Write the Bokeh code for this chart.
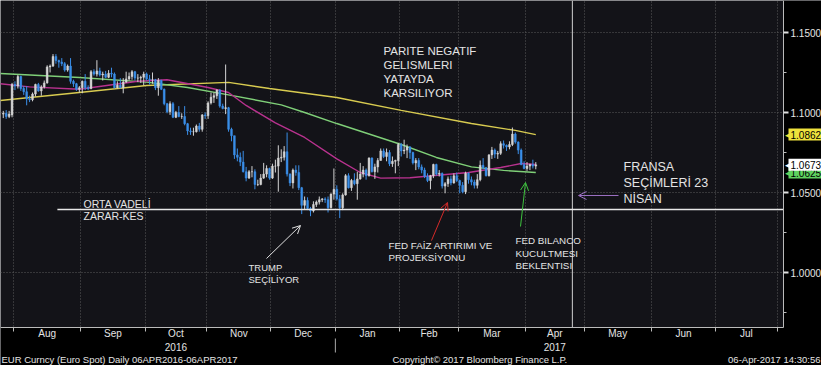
import numpy as np
import pandas as pd
from bokeh.plotting import figure
from bokeh.models import (Range1d, FixedTicker, Label, Arrow, OpenHead, Span, Grid, LinearAxis,
                          BoxAnnotation, ColumnDataSource, PrintfTickFormatter,
                          CustomJSTickFormatter)
from bokeh.embed import file_html
from bokeh.resources import INLINE

# ---------------- data ----------------
ORIGIN = "2016-08-01"
dates = pd.bdate_range("2016-07-26", "2017-04-06")

opens = [
    1.0990, 1.0995, 1.0975, 1.0985,
    1.1175, 1.1165, 1.1225, 1.1150, 1.1130, 1.1085, 1.1080, 1.1115, 1.1175, 1.1135,
    1.1160, 1.1185, 1.1285, 1.1290, 1.1350, 1.1325, 1.1315, 1.1305, 1.1265, 1.1290,
    1.1195, 1.1180, 1.1145,
    1.1155, 1.1195, 1.1155, 1.1150, 1.1255, 1.1240, 1.1260, 1.1235, 1.1240, 1.1220,
    1.1245, 1.1240, 1.1155, 1.1170, 1.1155, 1.1190, 1.1210, 1.1225, 1.1255, 1.1215,
    1.1215, 1.1220,
    1.1240, 1.1210, 1.1205, 1.1205, 1.1155, 1.1200, 1.1145, 1.1055, 1.1005, 1.1055,
    1.0970, 1.1000, 1.0975, 1.0975, 1.0930, 1.0885, 1.0880, 1.0880, 1.0915, 1.0895,
    1.0985,
    1.0980, 1.1060, 1.1095, 1.1105, 1.1140, 1.1040, 1.1025, 1.1030, 1.0895, 1.0855,
    1.0735, 1.0720, 1.0690, 1.0630, 1.0590, 1.0630, 1.0630, 1.0550, 1.0550, 1.0590,
    1.0615, 1.0650,
    1.0590, 1.0665, 1.0665, 1.0715, 1.0720, 1.0755, 1.0615, 1.0560, 1.0640, 1.0625,
    1.0530, 1.0420, 1.0450, 1.0400, 1.0385, 1.0425, 1.0440, 1.0455, 1.0460, 1.0455,
    1.0405, 1.0490,
    1.0520, 1.0460, 1.0405, 1.0485, 1.0605, 1.0530, 1.0575, 1.0555, 1.0585, 1.0615,
    1.0640, 1.0605, 1.0715, 1.0630, 1.0660, 1.0700, 1.0760, 1.0725, 1.0750, 1.0680,
    1.0695, 1.0700,
    1.0800, 1.0760, 1.0765, 1.0785, 1.0750, 1.0685, 1.0700, 1.0660, 1.0640, 1.0600,
    1.0575, 1.0605, 1.0675, 1.0615, 1.0620, 1.0540, 1.0555, 1.0585, 1.0560, 1.0605,
    1.0575, 1.0545, 1.0505, 1.0620, 1.0580, 1.0565, 1.0545, 1.0580, 1.0670, 1.0655,
    1.0605, 1.0735, 1.0765, 1.0740, 1.0745, 1.0805, 1.0795, 1.0785, 1.0800, 1.0865,
    1.0815, 1.0765, 1.0675,
    1.0650, 1.0665, 1.0675, 1.0665,
]
highs = [
    1.1010, 1.1015, 1.1010, 1.1185,
    1.1195, 1.1235, 1.1230, 1.1165, 1.1165, 1.1105, 1.1125, 1.1180, 1.1185, 1.1170,
    1.1200, 1.1295, 1.1300, 1.1365, 1.1365, 1.1330, 1.1340, 1.1315, 1.1300, 1.1340,
    1.1205, 1.1185, 1.1165,
    1.1200, 1.1240, 1.1170, 1.1265, 1.1270, 1.1327, 1.1280, 1.1255, 1.1260, 1.1265,
    1.1280, 1.1250, 1.1195, 1.1215, 1.1215, 1.1255, 1.1250, 1.1265, 1.1260, 1.1240,
    1.1230, 1.1255,
    1.1250, 1.1235, 1.1250, 1.1210, 1.1215, 1.1205, 1.1150, 1.1060, 1.1070, 1.1065,
    1.1010, 1.1040, 1.0995, 1.1040, 1.0935, 1.0905, 1.0905, 1.0925, 1.0935, 1.0990,
    1.1000,
    1.1070, 1.1125, 1.1125, 1.1145, 1.1145, 1.1055, 1.1300, 1.1035, 1.0905, 1.0855,
    1.0775, 1.0750, 1.0760, 1.0660, 1.0640, 1.0665, 1.0645, 1.0580, 1.0615, 1.0685,
    1.0670, 1.0655,
    1.0680, 1.0705, 1.0795, 1.0770, 1.0790, 1.0875, 1.0620, 1.0650, 1.0670, 1.0670,
    1.0535, 1.0475, 1.0470, 1.0410, 1.0445, 1.0450, 1.0475, 1.0465, 1.0470, 1.0475,
    1.0495, 1.0650,
    1.0545, 1.0485, 1.0495, 1.0615, 1.0620, 1.0585, 1.0620, 1.0630, 1.0685, 1.0665,
    1.0650, 1.0720, 1.0720, 1.0680, 1.0715, 1.0775, 1.0775, 1.0775, 1.0765, 1.0725,
    1.0705, 1.0810,
    1.0810, 1.0830, 1.0800, 1.0790, 1.0755, 1.0715, 1.0715, 1.0675, 1.0655, 1.0620,
    1.0610, 1.0680, 1.0680, 1.0640, 1.0625, 1.0565, 1.0600, 1.0605, 1.0620, 1.0625,
    1.0580, 1.0565, 1.0630, 1.0625, 1.0600, 1.0580, 1.0615, 1.0700, 1.0715, 1.0660,
    1.0740, 1.0785, 1.0775, 1.0760, 1.0820, 1.0825, 1.0800, 1.0820, 1.0906, 1.0875,
    1.0820, 1.0775, 1.0695,
    1.0690, 1.0680, 1.0705, 1.0690,
]
lows = [
    1.0965, 1.0960, 1.0965, 1.0970,
    1.1140, 1.1150, 1.1135, 1.1110, 1.1045, 1.1065, 1.1070, 1.1100, 1.1130, 1.1105,
    1.1150, 1.1180, 1.1250, 1.1285, 1.1305, 1.1280, 1.1290, 1.1255, 1.1255, 1.1180,
    1.1160, 1.1135, 1.1125,
    1.1120, 1.1140, 1.1140, 1.1145, 1.1230, 1.1225, 1.1225, 1.1200, 1.1215, 1.1215,
    1.1220, 1.1150, 1.1150, 1.1150, 1.1120, 1.1185, 1.1200, 1.1205, 1.1200, 1.1190,
    1.1185, 1.1170,
    1.1200, 1.1175, 1.1180, 1.1140, 1.1105, 1.1140, 1.1045, 1.0995, 1.0985, 1.0965,
    1.0965, 1.0970, 1.0960, 1.0920, 1.0860, 1.0860, 1.0855, 1.0875, 1.0880, 1.0880,
    1.0960,
    1.0960, 1.1050, 1.1060, 1.1085, 1.1030, 1.1020, 1.0990, 1.0880, 1.0820, 1.0710,
    1.0695, 1.0665, 1.0625, 1.0570, 1.0585, 1.0595, 1.0520, 1.0540, 1.0545, 1.0585,
    1.0595, 1.0580,
    1.0585, 1.0625, 1.0505, 1.0690, 1.0700, 1.0600, 1.0540, 1.0525, 1.0605, 1.0515,
    1.0365, 1.0395, 1.0390, 1.0352, 1.0375, 1.0410, 1.0425, 1.0440, 1.0435, 1.0375,
    1.0400, 1.0455,
    1.0450, 1.0340, 1.0390, 1.0480, 1.0525, 1.0510, 1.0545, 1.0455, 1.0580, 1.0595,
    1.0580, 1.0600, 1.0625, 1.0585, 1.0625, 1.0700, 1.0715, 1.0695, 1.0665, 1.0660,
    1.0620, 1.0665,
    1.0725, 1.0740, 1.0715, 1.0710, 1.0675, 1.0640, 1.0645, 1.0620, 1.0590, 1.0565,
    1.0520, 1.0590, 1.0605, 1.0600, 1.0525, 1.0495, 1.0535, 1.0545, 1.0555, 1.0565,
    1.0495, 1.0495, 1.0490, 1.0555, 1.0545, 1.0525, 1.0525, 1.0570, 1.0645, 1.0600,
    1.0600, 1.0710, 1.0715, 1.0710, 1.0735, 1.0775, 1.0760, 1.0770, 1.0790, 1.0805,
    1.0740, 1.0670, 1.0645,
    1.0635, 1.0640, 1.0650, 1.0645,
]
closes = [
    1.0995, 1.0975, 1.0990, 1.1175,
    1.1165, 1.1225, 1.1150, 1.1130, 1.1085, 1.1080, 1.1115, 1.1175, 1.1135, 1.1160,
    1.1185, 1.1285, 1.1290, 1.1350, 1.1325, 1.1315, 1.1305, 1.1265, 1.1290, 1.1195,
    1.1180, 1.1145, 1.1155,
    1.1195, 1.1155, 1.1150, 1.1255, 1.1240, 1.1260, 1.1235, 1.1240, 1.1220, 1.1245,
    1.1240, 1.1155, 1.1170, 1.1155, 1.1190, 1.1210, 1.1225, 1.1255, 1.1215, 1.1215,
    1.1220, 1.1240,
    1.1210, 1.1205, 1.1205, 1.1155, 1.1200, 1.1145, 1.1055, 1.1005, 1.1055, 1.0970,
    1.1000, 1.0975, 1.0975, 1.0930, 1.0885, 1.0880, 1.0880, 1.0915, 1.0895, 1.0985,
    1.0980,
    1.1060, 1.1095, 1.1105, 1.1140, 1.1040, 1.1025, 1.1030, 1.0895, 1.0855, 1.0735,
    1.0720, 1.0690, 1.0630, 1.0590, 1.0630, 1.0630, 1.0550, 1.0550, 1.0590, 1.0615,
    1.0650, 1.0590,
    1.0665, 1.0665, 1.0715, 1.0720, 1.0755, 1.0615, 1.0560, 1.0640, 1.0625, 1.0530,
    1.0420, 1.0450, 1.0400, 1.0385, 1.0425, 1.0440, 1.0455, 1.0460, 1.0455, 1.0405,
    1.0490, 1.0520,
    1.0460, 1.0405, 1.0485, 1.0605, 1.0530, 1.0575, 1.0555, 1.0585, 1.0615, 1.0640,
    1.0605, 1.0715, 1.0630, 1.0660, 1.0700, 1.0760, 1.0725, 1.0750, 1.0680, 1.0695,
    1.0700, 1.0800,
    1.0760, 1.0765, 1.0785, 1.0750, 1.0685, 1.0700, 1.0660, 1.0640, 1.0600, 1.0575,
    1.0605, 1.0675, 1.0615, 1.0620, 1.0540, 1.0555, 1.0585, 1.0560, 1.0605, 1.0575,
    1.0545, 1.0505, 1.0620, 1.0580, 1.0565, 1.0545, 1.0580, 1.0670, 1.0655, 1.0605,
    1.0735, 1.0765, 1.0740, 1.0745, 1.0805, 1.0795, 1.0785, 1.0800, 1.0865, 1.0815,
    1.0765, 1.0675, 1.0650,
    1.0665, 1.0675, 1.0665, 1.0673,
]

# moving averages (date index, value)
ma200_idx = [-5, 22, 45, 73, 87, 110, 132, 156, 171, 178]
ma200_val = [1.1075, 1.1125, 1.1169, 1.1188, 1.1150, 1.1094, 1.1013, 1.0931, 1.0888, 1.0862]
ma100_idx = [-5, 22, 45, 59, 73, 91, 99, 110, 132, 144, 156, 167, 178]
ma100_val = [1.1244, 1.1219, 1.1190, 1.1156, 1.1110, 1.1048, 1.1000, 1.0931, 1.0800,
             1.0719, 1.0660, 1.0638, 1.0625]
ma50_idx = [-5, 5, 22, 42, 52, 66, 73, 79, 89, 99, 110, 118, 125, 135, 155, 166, 173, 178]
ma50_val = [1.1180, 1.1160, 1.1145, 1.1195, 1.1205, 1.1156, 1.1125, 1.1044, 1.0935,
            1.0844, 1.0710, 1.0625, 1.0590, 1.0592, 1.0625, 1.0656, 1.0681, 1.0675]

month_names = ["Aug", "Sep", "Oct", "Nov", "Dec", "Jan", "Feb", "Mar", "Apr", "May", "Jun", "Jul"]
y_ticks = [1.0, 1.05, 1.10, 1.15]
y_minor = [0.975, 1.025, 1.075, 1.125]
stop_level = 1.0394
stop_from = "2016-08-22"
election_day = "2017-04-24"
tag_texts = ["1.0625", "1.0862", "1.0673"]
tag_levels = [1.0625, 1.0862, 1.0673]
tag_colors = ["#5fd35f", "#efe23c", "#ffffff"]

# ---------------- helpers ----------------
def idx(d):
    return int(np.busday_count(np.datetime64(ORIGIN), np.datetime64(pd.Timestamp(d).date())))

PXD = 2.926
def X(px):
    return (px - 13) / PXD - 0.5
def Y(py):
    return 1.1 - (py - 112) / 1600.0

FONT = "Liberation Sans"
TXT = "#e4e4e4"

x_idx = [idx(d) for d in dates]
up = [c >= o for o, c in zip(opens, closes)]
src = ColumnDataSource(dict(
    x=x_idx, o=opens, h=highs, l=lows, c=closes,
    top=[max(o, c) for o, c in zip(opens, closes)],
    bot=[min(o, c) for o, c in zip(opens, closes)],
    col=["#d4d4d4" if u else "#3a8ee8" for u in up],
))

month_starts = pd.date_range("2016-08-01", "2017-08-01", freq="MS")
bounds = [idx(m) - 0.5 for m in month_starts]
mids = [(a + b) / 2 for a, b in zip(bounds[:-1], bounds[1:])]

p = figure(width=821, height=365, x_range=Range1d(X(0), X(821)), y_range=Range1d(Y(365), Y(0)),
           x_axis_location=None, y_axis_location=None,
           toolbar_location=None, output_backend="svg", min_border=0,
           background_fill_color="#131318", border_fill_color="#000000", outline_line_color=None)
for g in list(p.center):
    if isinstance(g, Grid):
        p.center.remove(g)

# axes (drawn at fixed positions; the area beyond them is painted black)
xa = LinearAxis(fixed_location=Y(327), bounds=(X(0), X(783)),
                ticker=FixedTicker(ticks=mids, minor_ticks=bounds))
xa.formatter = CustomJSTickFormatter(args=dict(mpos=mids, mnames=month_names), code="""
let best = 0, bd = 1e9;
for (let k = 0; k < mpos.length; k++) { const d = Math.abs(mpos[k] - tick); if (d < bd) { bd = d; best = k; } }
return mnames[best];
""")
xa.major_tick_line_color = None
xa.major_tick_out = 0
xa.major_tick_in = 0
xa.minor_tick_line_color = "#bbbbbb"
xa.minor_tick_out = 4
xa.minor_tick_in = 0
xa.axis_line_color = "#bbbbbb"
xa.major_label_standoff = -4
xa.major_label_text_color = TXT
xa.major_label_text_font = FONT
xa.major_label_text_font_size = "10px"
p.add_layout(xa, "below")

ya = LinearAxis(fixed_location=X(783), bounds=(Y(327), Y(0)),
                ticker=FixedTicker(ticks=y_ticks, minor_ticks=y_minor))
ya.formatter = PrintfTickFormatter(format="%.4f")
ya.axis_line_color = "#bbbbbb"
ya.major_tick_line_color = "#e0e0e0"
ya.major_tick_line_width = 2
ya.major_tick_out = 5
ya.major_tick_in = 0
ya.minor_tick_line_color = "#bbbbbb"
ya.minor_tick_out = 3
ya.minor_tick_in = 0
ya.major_label_standoff = 2
ya.major_label_text_color = TXT
ya.major_label_text_font = FONT
ya.major_label_text_font_size = "10px"
p.add_layout(ya, "right")

xg = Grid(dimension=0, ticker=FixedTicker(ticks=bounds))
yg = Grid(dimension=1, ticker=FixedTicker(ticks=y_ticks))
for g in (xg, yg):
    g.grid_line_color = "#5a5a5a"
    g.grid_line_dash = "1 2"
    g.grid_line_width = 1
    p.add_layout(g)

p.add_layout(Span(location=idx(election_day) + 0.5, dimension="height",
                  line_color="#d0d0d0", line_width=1, level="underlay"))

# moving averages
p.line(ma200_idx, ma200_val, line_color="#d8cb50", line_width=1.4)
p.line(ma100_idx, ma100_val, line_color="#7fcf78", line_width=1.4)
p.line(ma50_idx, ma50_val, line_color="#b8328e", line_width=1.4)

# candles
p.segment(x0="x", y0="l", x1="x", y1="h", source=src, line_color="col", line_width=1)
p.vbar(x="x", width=0.62, top="top", bottom="bot", source=src, fill_color="col",
       line_color="col", line_width=0.5)

# stop level
p.segment(x0=[idx(stop_from) - 0.5], x1=[X(783)], y0=[stop_level], y1=[stop_level],
          line_color="#e8e8e8", line_width=1.5)

# black margins outside the plotting area
p.add_layout(BoxAnnotation(left=X(783), fill_color="#000000", fill_alpha=1,
                           line_color=None, level="glyph"))
p.add_layout(BoxAnnotation(top=Y(327), fill_color="#000000", fill_alpha=1,
                           line_color=None, level="glyph"))

def lab(px, py, text, size="11px", color=TXT, align="left"):
    p.add_layout(Label(x=X(px), y=Y(py), text=text, text_color=color, text_font=FONT,
                       text_font_size=size, text_align=align, text_baseline="middle"))

for k, t in enumerate(["PARITE NEGATIF", "GELISMLERI", "YATAYDA", "KARSILIYOR"]):
    lab(383, 50 + 14 * k, t, "11.5px")
lab(83, 203, "ORTA VADELİ", "10.5px")
lab(83, 215, "ZARAR-KES", "10.5px")
lab(248, 267, "TRUMP", "9.5px")
lab(248, 279, "SEÇİLİYOR", "9.5px")
lab(388, 245, "FED FAİZ ARTIRIMI VE", "9.8px")
lab(388, 257, "PROJEKSİYONU", "9.8px")
for k, t in enumerate(["FED BILANCO", "KUCULTMESI", "BEKLENTISI"]):
    lab(515, 240 + 12.5 * k, t, "9.8px")
for k, t in enumerate(["FRANSA", "SEÇİMLERİ 23", "NİSAN"]):
    lab(623, 166 + 16 * k, t, "12.5px")

def arrow(x0, y0, x1, y1, color):
    p.add_layout(Arrow(x_start=X(x0), y_start=Y(y0), x_end=X(x1), y_end=Y(y1),
                       line_color=color, line_width=1,
                       end=OpenHead(size=8, line_color=color, line_width=1)))

arrow(266, 258, 300, 225, "#e0e0e0")
arrow(431, 240, 447, 202, "#d42a2a")
arrow(520, 226, 525, 182, "#3fc43f")
arrow(618, 195, 578, 195, "#9a6fc0")

# last-value tags
for txt, lvl, colr in zip(tag_texts, tag_levels, tag_colors):
    p.add_layout(Label(x=X(784), y=lvl, text="◀", text_color=colr, text_font=FONT,
                       text_font_size="9px", text_baseline="middle", text_align="left"))
    p.add_layout(Label(x=X(788), y=lvl, text=txt, text_color="#000000", text_font=FONT,
                       text_font_size="10px", text_baseline="middle", text_align="left",
                       background_fill_color=colr, padding=2))

# bottom texts
for m, yr in ((mids[2], "2016"), (mids[8], "2017")):
    p.add_layout(Label(x=m, y=Y(346), text=yr, text_color=TXT, text_font=FONT,
                       text_font_size="10px", text_align="center", text_baseline="middle"))
p.add_layout(Arrow(x_start=bounds[5], y_start=Y(338), x_end=bounds[5], y_end=Y(352),
                   line_color="#aaaaaa", line_width=1, end=None))
lab(1, 359, "EUR Curncy (Euro Spot)  Daily 06APR2016-06APR2017", "9.5px")
lab(392, 359, "Copyright© 2017 Bloomberg Finance L.P.", "9.5px")
lab(820, 359, "06-Apr-2017 14:30:56", "9.5px", align="right")

open("out.html", "w").write(file_html(p, INLINE))
